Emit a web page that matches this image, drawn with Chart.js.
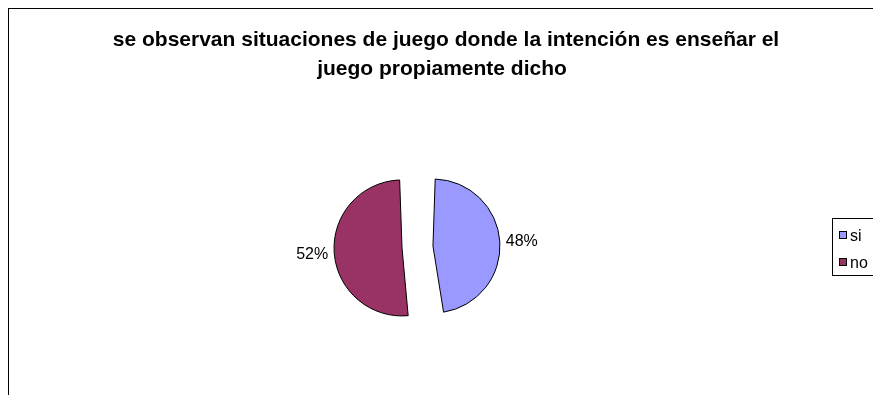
<!DOCTYPE html>
<html>
<head>
<meta charset="utf-8">
<script src="https://cdn.jsdelivr.net/npm/chart.js@4.4.1/dist/chart.umd.min.js"></script>
<style>
  html, body { margin: 0; padding: 0; background: #fff; overflow: hidden; }
  #wrap { width: 873px; height: 395px; position: relative; }
</style>
</head>
<body>
<div id="wrap"><canvas id="pie-chart"></canvas></div>
<script>
const titleLines = ['se observan situaciones de juego donde la intención es enseñar el', 'juego propiamente dicho'];
const categories = ['si', 'no'];
const percentages = [48, 52];
const sliceColors = ['#9999FF', '#993366'];

const FONT = '"Liberation Sans", Arial, sans-serif';

// frame, title, legend box and the % labels next to each slice
const decorations = {
    id: 'decorations',
    beforeDraw(chart) {
        const ctx = chart.ctx;
        ctx.save();
        ctx.fillStyle = '#fff';
        ctx.fillRect(0, 0, chart.width, chart.height);
        ctx.strokeStyle = '#000';
        ctx.lineWidth = 1;
        ctx.strokeRect(8.5, 8.5, 1000, 1000);
        ctx.restore();
    },
    afterDraw(chart) {
        const ctx = chart.ctx;
        const meta = chart.getDatasetMeta(0);
        ctx.save();
        ctx.fillStyle = '#000';

        // title
        ctx.font = 'bold 21px ' + FONT;
        ctx.textAlign = 'center';
        ctx.textBaseline = 'alphabetic';
        ctx.fillText(titleLines[0], 446, 46);
        ctx.fillText(titleLines[1], 442, 75);

        // percentage labels
        ctx.font = '16px ' + FONT;
        ctx.textBaseline = 'middle';
        meta.data.forEach(function (arc, i) {
            const mid = (arc.startAngle + arc.endAngle) / 2;
            const r = arc.outerRadius + 52;
            ctx.fillText(percentages[i] + '%', arc.x + Math.cos(mid) * r, arc.y + Math.sin(mid) * r + 1);
        });

        // legend
        ctx.strokeStyle = '#000';
        ctx.lineWidth = 1;
        ctx.strokeRect(832.5, 218.5, 100, 57);
        ctx.textAlign = 'left';
        categories.forEach(function (name, i) {
            const y = 231.5 + i * 27;
            ctx.fillStyle = sliceColors[i];
            ctx.fillRect(839.5, y, 7, 7);
            ctx.strokeRect(839.5, y, 7, 7);
            ctx.fillStyle = '#000';
            ctx.fillText(name, 850, y + 5);
        });
        ctx.restore();
    }
};

let ctx = document.getElementById('pie-chart').getContext('2d');
new Chart(ctx, {
    type: 'pie',
    data: {
        labels: categories,
        datasets: [{
            data: percentages,
            backgroundColor: sliceColors,
            borderColor: '#000',
            borderWidth: 1,
            offset: [64, 60]
        }]
    },
    options: {
        responsive: true,
        maintainAspectRatio: false,
        animation: false,
        events: [],
        radius: 53,
        layout: { padding: { left: 0, right: 39, top: 100, bottom: 1 } },
        plugins: {
            legend: { display: false },
            title: { display: false },
            tooltip: { enabled: false }
        }
    },
    plugins: [decorations]
});
</script>
</body>
</html>
